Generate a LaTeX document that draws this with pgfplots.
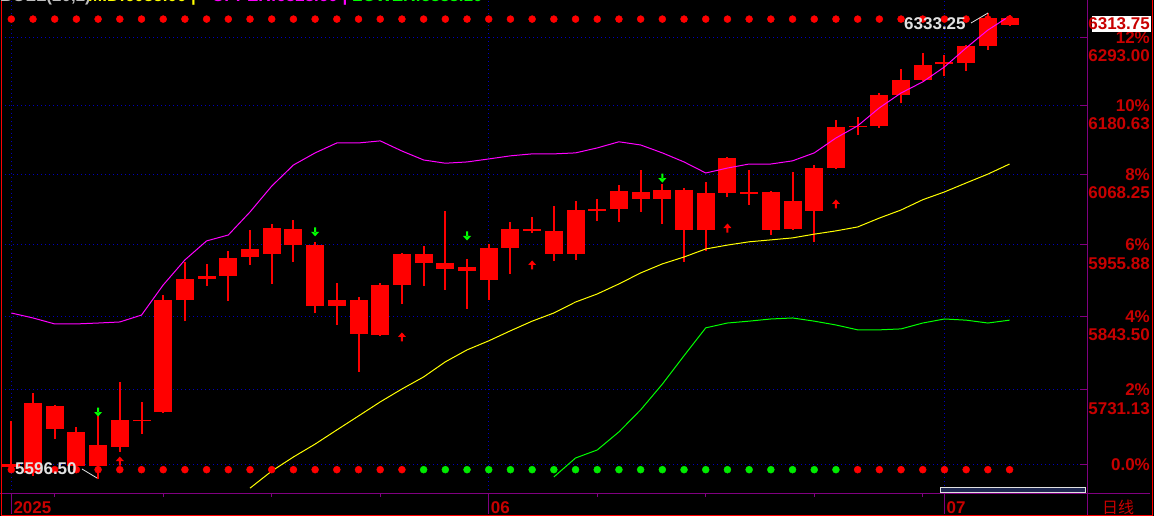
\documentclass[border=0pt]{standalone}
\usepackage{fontspec}
\setmainfont{Liberation Sans}
\newfontfamily\cjk{Noto Sans CJK SC}
\usepackage{pgfplots}
\usepackage{pgfplotstable}
\pgfplotsset{compat=1.18}

\definecolor{candle}{RGB}{255,0,0}
\definecolor{labred}{RGB}{200,0,0}
\definecolor{axpurple}{RGB}{128,0,128}
\definecolor{gridblue}{RGB}{0,0,190}
\definecolor{bandmag}{RGB}{255,0,255}
\definecolor{bandyel}{RGB}{255,255,0}
\definecolor{bandgrn}{RGB}{0,255,0}
\definecolor{dotgrn}{RGB}{0,235,0}
\definecolor{notegray}{RGB}{225,225,225}
\definecolor{hdrgray}{RGB}{190,190,190}
\definecolor{barnavy}{RGB}{30,40,80}

\newcommand\lblfont{\fontsize{17}{20}\selectfont\bfseries}

% arrow signals
\pgfdeclareplotmark{arrdn}{%
  \pgfpathrectangle{\pgfpoint{-1pt}{-0.5pt}}{\pgfpoint{2pt}{5pt}}%
  \pgfpathmoveto{\pgfpoint{-4pt}{0pt}}%
  \pgfpathlineto{\pgfpoint{4pt}{0pt}}%
  \pgfpathlineto{\pgfpoint{0pt}{-4.5pt}}%
  \pgfpathclose
  \pgfusepathqfill}
\pgfdeclareplotmark{arrup}{%
  \pgfpathrectangle{\pgfpoint{-1pt}{-4.5pt}}{\pgfpoint{2pt}{5pt}}%
  \pgfpathmoveto{\pgfpoint{-4pt}{0pt}}%
  \pgfpathlineto{\pgfpoint{4pt}{0pt}}%
  \pgfpathlineto{\pgfpoint{0pt}{4.5pt}}%
  \pgfpathclose
  \pgfusepathqfill}

% daily candles: index, open, high, low, close
\pgfplotstableread{
i  o       h       l       c
0  5614.7  5684.0  5605.8  5619.2
1  5605.8  5726.2  5601.3  5711.1
2  5671.9  5708.1  5656.9  5706.6
3  5616.2  5674.9  5613.2  5667.4
4  5616.2  5691.5  5596.5  5647.8
5  5644.8  5743.0  5637.3  5685.5
6  5683.2  5712.6  5664.4  5686.2
7  5697.5  5877.2  5696.0  5869.3
8  5869.3  5928.9  5836.6  5902.2
9  5902.2  5925.7  5891.3  5906.9
10 5906.9  5946.1  5867.8  5935.1
11 5936.7  5979.4  5924.2  5949.2
12 5941.4  5989.0  5894.4  5982.6
13 5955.5  5995.4  5928.9  5981.0
14 5955.5  5960.3  5849.0  5860.0
15 5860.0  5896.0  5830.5  5869.3
16 5869.3  5874.0  5758.3  5816.6
17 5815.1  5896.0  5813.6  5892.8
18 5892.8  5943.0  5863.1  5941.4
19 5927.3  5953.9  5891.3  5941.4
20 5917.9  6009.7  5885.0  5927.3
21 5921.0  5933.6  5855.3  5914.8
22 5900.7  5957.1  5869.3  5950.8
23 5950.8  5992.2  5910.1  5981.0
24 5977.8  6000.1  5974.6  5981.0
25 5941.4  6017.7  5930.4  5977.8
26 5941.4  6025.7  5932.0  6011.3
27 6009.7  6028.9  5993.8  6012.9
28 6012.9  6051.2  5992.2  6041.6
29 6028.9  6075.2  6008.1  6040.0
30 6043.2  6052.8  5989.0  6028.9
31 6043.2  6046.4  5928.9  5979.4
32 6038.4  6056.0  5946.1  5979.4
33 6038.4  6096.4  6032.0  6094.8
34 6040.0  6075.2  6019.3  6036.8
35 6040.0  6041.6  5971.4  5979.4
36 5981.0  6072.0  5979.4  6025.7
37 6009.7  6083.4  5960.3  6078.5
38 6078.5  6156.6  6076.9  6145.2
39 6144.4  6161.4  6132.2  6147.6
40 6146.8  6200.8  6143.6  6197.5
41 6197.5  6240.5  6184.3  6222.3
42 6222.3  6267.0  6220.7  6247.2
43 6248.0  6263.7  6229.0  6251.3
44 6250.5  6280.3  6237.2  6278.6
45 6278.6  6333.25 6272.0  6325.2
46 6325.2  6330.2  6312.0  6313.75
}\ohlc

% upper band and top signal row
\pgfplotstableread{
i  up      top
0  5849.0  6323.6
1  5841.2  6323.6
2  5832.0  6323.6
3  5832.0  6323.6
4  5833.5  6323.6
5  5835.1  6323.6
6  5845.8  6323.6
7  5892.8  6323.6
8  5932.0  6323.6
9  5961.9  6323.6
10 5971.4  6323.6
11 6008.1  6323.6
12 6049.6  6323.6
13 6083.4  6323.6
14 6102.9  6323.6
15 6119.2  6323.6
16 6119.2  6323.6
17 6122.4  6323.6
18 6106.1  6323.6
19 6091.5  6323.6
20 6086.6  6323.6
21 6088.3  6323.6
22 6093.1  6323.6
23 6098.0  6323.6
24 6101.3  6323.6
25 6101.3  6323.6
26 6102.9  6323.6
27 6111.0  6323.6
28 6120.8  6323.6
29 6115.9  6323.6
30 6102.9  6323.6
31 6088.3  6323.6
32 6070.4  6323.6
33 6078.5  6323.6
34 6085.0  6323.6
35 6085.0  6323.6
36 6089.9  6323.6
37 6102.9  6323.6
38 6127.3  6323.6
39 6146.8  6323.6
40 6176.1  6323.6
41 6200.8  6323.6
42 6219.0  6323.6
43 6243.9  6323.6
44 6275.3  6323.6
45 6305.2  6323.6
46 6328.6  6323.6
}\upband

\pgfplotstableread{
i  mid
11 5583.4
12 5608.8
13 5629.7
14 5649.3
15 5670.4
16 5691.5
17 5712.6
18 5732.2
19 5750.6
20 5773.6
21 5792.1
22 5805.9
23 5821.2
24 5836.6
25 5849.0
26 5866.2
27 5878.7
28 5894.4
29 5911.6
30 5925.7
31 5936.7
32 5949.2
33 5955.5
34 5960.3
35 5963.5
36 5966.7
37 5973.0
38 5977.8
39 5984.2
40 5998.5
41 6011.3
42 6027.3
43 6040.0
44 6054.4
45 6068.7
46 6085.0
}\midband

\pgfplotstableread{
i  lo
25 5599.8
26 5628.2
27 5640.3
28 5667.4
29 5700.6
30 5739.9
31 5782.9
32 5825.9
33 5833.5
34 5836.6
35 5839.7
36 5841.2
37 5836.6
38 5830.5
39 5822.8
40 5822.8
41 5824.3
42 5833.5
43 5839.7
44 5838.1
45 5833.5
46 5838.1
}\lowband

\begin{document}
\begin{tikzpicture}[x=1pt,y=1pt]
\useasboundingbox (0,0) rectangle (1154,516);
\clip (0,0) rectangle (1154,516);
\fill[black] (0,0) rectangle (1154,516);

\begin{axis}[
  at={(1pt,22pt)}, anchor=south west,
  width=1086pt, height=494pt, scale only axis,
  xmin=-0.475, xmax=49.57,
  % price scale is logarithmic (equal percent steps shrink upwards)
  y coord trafo/.code={\pgfmathparse{1000*ln(#1)-8600}},
  y coord inv trafo/.code={\pgfmathparse{exp((#1+8600)/1000)}},
  ymin=5574.6, ymax=6355.6,
  axis line style={draw=none},
  xtick={0,22,43}, xticklabels={2025,06,07},
  minor xtick={2,7,12,17,27,32,37,42},
  xtick pos=bottom, xtick align=outside,
  major x tick style={draw=none},
  minor x tick style={draw=axpurple, line width=1pt},
  minor tick length=3pt,
  ytick={5618.75,5731.13,5843.5,5955.88,6068.25,6180.63,6293},
  yticklabels={0.0\%,2\%,4\%,6\%,8\%,10\%,12\%},
  ytick pos=right, yticklabel pos=right, ytick align=inside,
  major tick length=7pt,
  major y tick style={draw=axpurple, line width=1pt},
  extra y ticks={5731.13,5843.5,5955.88,6068.25,6180.63,6293},
  extra y tick labels={5731.13,5843.50,5955.88,6068.25,6180.63,6293.00},
  extra y tick style={grid=none, yticklabel style={yshift=-18.5pt}},
  xmajorgrids, ymajorgrids,
  major grid style={draw=gridblue, line width=1pt, dash pattern=on 1pt off 3pt},
  yticklabel style={font=\lblfont, text=labred, anchor=east, inner sep=0pt, xshift=63pt},
  xticklabel style={font=\lblfont, text=labred, anchor=north west, inner sep=0pt, xshift=2pt, yshift=0pt},
]
\addplot[only marks, mark=*, mark size=3.5pt, color=candle, mark options={draw=none}] table[x=i, y=top] {\upband};
\addplot[only marks, mark=*, mark size=3.5pt, color=candle, mark options={draw=none}] coordinates {
  (0,5611) (1,5611) (2,5611) (3,5611) (4,5611) (5,5611) (6,5611) (7,5611) (8,5611) (9,5611)
  (10,5611) (11,5611) (12,5611) (13,5611) (14,5611) (15,5611) (16,5611) (17,5611) (18,5611)
  (39,5611) (40,5611) (41,5611) (42,5611) (43,5611) (44,5611) (45,5611) (46,5611)};
\addplot[only marks, mark=*, mark size=3.5pt, color=dotgrn, mark options={draw=none}] coordinates {
  (19,5611) (20,5611) (21,5611) (22,5611) (23,5611) (24,5611) (25,5611) (26,5611) (27,5611) (28,5611)
  (29,5611) (30,5611) (31,5611) (32,5611) (33,5611) (34,5611) (35,5611) (36,5611) (37,5611) (38,5611)};

\pgfplotsforeachungrouped \k in {0,...,46}{%
  \pgfplotstablegetelem{\k}{i}\of\ohlc\let\vX\pgfplotsretval
  \pgfplotstablegetelem{\k}{o}\of\ohlc\let\vO\pgfplotsretval
  \pgfplotstablegetelem{\k}{h}\of\ohlc\let\vH\pgfplotsretval
  \pgfplotstablegetelem{\k}{l}\of\ohlc\let\vL\pgfplotsretval
  \pgfplotstablegetelem{\k}{c}\of\ohlc\let\vC\pgfplotsretval
  \edef\candleplot{%
    \noexpand\addplot[candle, line width=2pt, mark=none] coordinates {(\vX,\vL) (\vX,\vH)};
    \noexpand\addplot[candle, line width=18pt, mark=none] coordinates {(\vX,\vO) (\vX,\vC)};}%
  \candleplot
}

\addplot[bandmag, line width=1pt, mark=none] table[x=i, y=up] {\upband};
\addplot[bandyel, line width=1pt, mark=none] table[x=i, y=mid] {\midband};
\addplot[bandgrn, line width=1pt, mark=none] table[x=i, y=lo] {\lowband};

\addplot[only marks, mark=arrdn, color=bandgrn] coordinates {(4,5697.5) (14,5976.2) (21,5969.8) (30,6062.3)};
\addplot[only marks, mark=arrup, color=candle] coordinates {(5,5623.7) (18,5812.0) (24,5924.2) (33,5982.6) (38,6020.9)};

\coordinate (m0) at (axis cs:0,5574.6);
\coordinate (m1) at (axis cs:22,5574.6);
\coordinate (m2) at (axis cs:43,5574.6);
\end{axis}

% frame and axis lines
\draw[axpurple, line width=1pt] (0,22) -- (1150,22);
\draw[axpurple, line width=1pt] (1087,0) -- (1087,516);
\foreach \m in {m0,m1,m2} \draw[axpurple, line width=1pt] (\m) -- ++(0,-20);
\draw[candle, line width=1pt] (1,516) -- (1,0.5) -- (1152,0.5) -- (1152,516);

% scroll bar
\draw[fill=barnavy, draw=notegray, line width=1pt] (940.5,23.5) rectangle (1085.5,28);

% extreme price notes
\draw[notegray, line width=0.8pt] (82,47) -- (97,38);
\node[anchor=west, inner sep=0pt, text=notegray, font=\lblfont] at (15,47.5) {5596.50};
\draw[notegray, line width=0.8pt] (971,493) -- (988,503);
\node[anchor=west, inner sep=0pt, text=notegray, font=\lblfont] at (904,492.5) {6333.25};

% last price tag
\fill[white] (1092,484) rectangle (1151,500);
\node[anchor=east, inner sep=0pt, text=labred, font=\lblfont] at (1150,492) {6313.75};

% period label
\node[text=labred, inner sep=0pt] at (1118,9) {\cjk\fontsize{16}{18}\selectfont 日线};

% indicator header, cut by the page top
\node[anchor=base west, inner sep=0pt, text=hdrgray, font=\lblfont] at (0,514) {BOLL(20,2)};
\node[anchor=base west, inner sep=0pt, text=bandyel, font=\lblfont] at (88,514) {MID:6085.00 |};
\node[anchor=base west, inner sep=0pt, text=bandmag, font=\lblfont] at (212,514) {UPPER:6328.60 |};
\node[anchor=base west, inner sep=0pt, text=bandgrn, font=\lblfont] at (352,514) {LOWER:5838.10};
\end{tikzpicture}
\end{document}
